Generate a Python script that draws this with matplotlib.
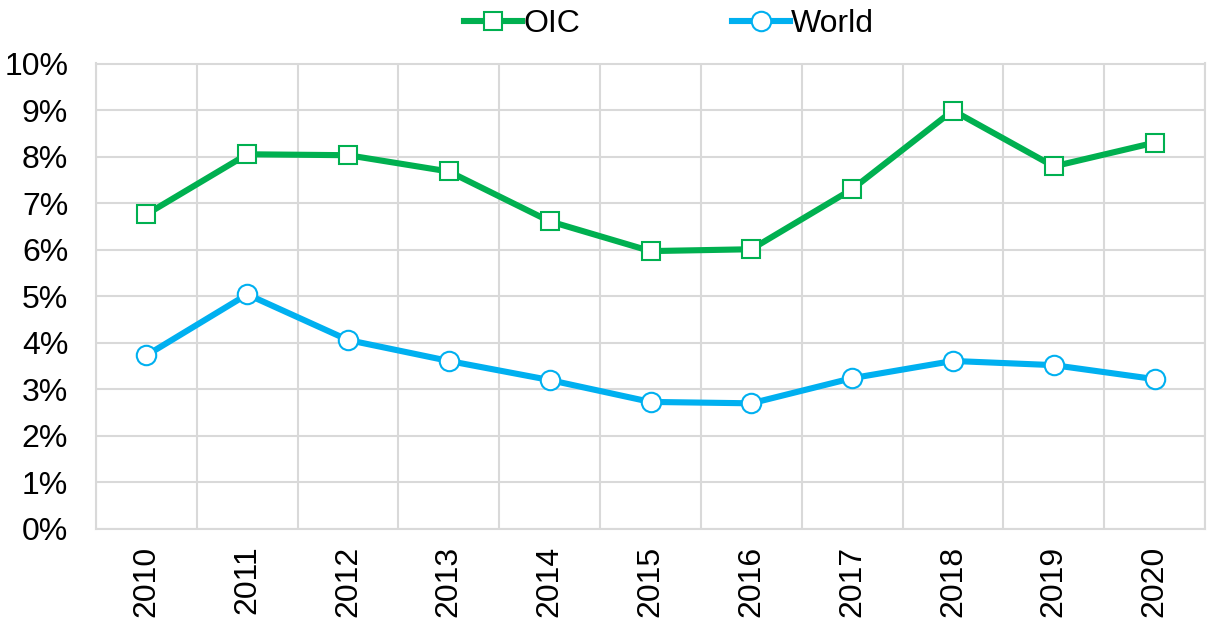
import matplotlib.pyplot as plt
from matplotlib.ticker import FuncFormatter, MultipleLocator

YEARS = ["2010", "2011", "2012", "2013", "2014", "2015", "2016", "2017", "2018", "2019", "2020"]
OIC = [6.76, 8.05, 8.03, 7.68, 6.61, 5.97, 6.01, 7.30, 8.99, 7.79, 8.30]
WORLD = [3.73, 5.04, 4.06, 3.61, 3.20, 2.73, 2.70, 3.24, 3.61, 3.52, 3.22]

GREEN = "#00B050"
BLUE = "#00B0F0"
GRID = "#D9D9D9"

plt.rcParams["font.family"] = ["Liberation Sans", "DejaVu Sans"]

fig = plt.figure(figsize=(12.09, 6.25), dpi=100)
ax = fig.add_axes([0.0794, 0.1536, 0.9173, 0.7448])

x = list(range(len(YEARS)))
ax.plot(x, OIC, color=GREEN, linewidth=4.4, marker="s", markersize=13,
        markerfacecolor="white", markeredgecolor=GREEN, markeredgewidth=1.5,
        label="OIC", zorder=3)
ax.plot(x, WORLD, color=BLUE, linewidth=4.4, marker="o", markersize=14,
        markerfacecolor="white", markeredgecolor=BLUE, markeredgewidth=1.5,
        label="World", zorder=3)

ax.set_xlim(-0.5, len(YEARS) - 0.5)
ax.set_ylim(0, 10)
ax.yaxis.set_major_locator(MultipleLocator(1))
ax.yaxis.set_major_formatter(FuncFormatter(lambda v, _: f"{v:.0f}%"))
ax.set_xticks(x)
ax.set_xticklabels(YEARS, rotation=90)
ax.set_xticks([i - 0.5 for i in range(len(YEARS) + 1)], minor=True)

ax.grid(True, axis="y", color=GRID, linewidth=1.5)
ax.grid(True, axis="x", which="minor", color=GRID, linewidth=1.5)
ax.grid(False, axis="x", which="major")
ax.set_axisbelow(True)
for spine in ax.spines.values():
    spine.set_color(GRID)
    spine.set_linewidth(1.5)
ax.tick_params(axis="both", which="both", length=0, labelsize=23, colors="black")
ax.tick_params(axis="x", pad=12)
ax.tick_params(axis="y", pad=20)

ax.legend(loc="lower center", bbox_to_anchor=(0.517, 1.0), ncol=2, frameon=False,
          fontsize=23, handlelength=1.8, handletextpad=0.05, columnspacing=4.75,
          borderaxespad=0.36)

fig.savefig("out.png", dpi=100)
